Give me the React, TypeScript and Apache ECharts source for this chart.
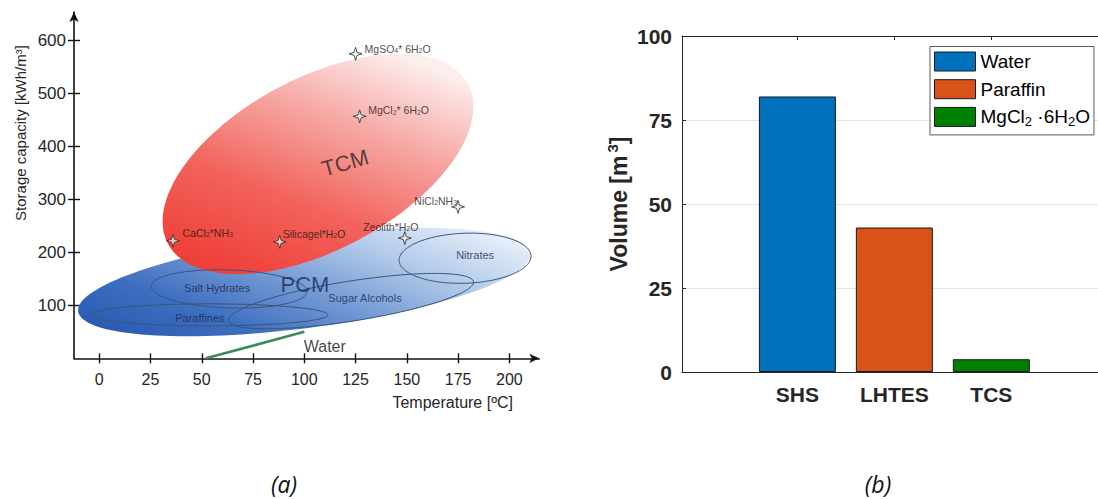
import React, { useEffect, useRef } from "react";
import * as echarts from "echarts";

// ---------------- Panel (a): storage capacity vs temperature ----------------
const tempTicks = [0, 25, 50, 75, 100, 125, 150, 175, 200];
const capacityTicks = [100, 200, 300, 400, 500, 600];

const materialNames = ["MgSO4* 6H2O", "MgCl2* 6H2O", "NiCl2NH3", "Zeolith*H2O", "Silicagel*H2O", "CaCl2*NH3"];
const materialTemp = [125, 127, 175, 149, 88, 36];
const materialCapacity = [575, 457, 286, 227, 220, 222];

// big material classes (filled regions), centre in data units
const regionNames = ["PCM", "TCM"];
const regionTemp = [100, 106.7];
const regionCapacity = [144, 367];

// PCM sub-groups (outlined regions), centre in data units
const subgroupNames = ["Salt Hydrates", "Paraffines", "Sugar Alcohols", "Nitrates"];
const subgroupTemp = [63.3, 54, 122.8, 178.4];
const subgroupCapacity = [131, 82, 108, 189];

// water line
const waterTemp = [52, 100];
const waterCapacity = [0, 50];

// annotation texts
const noteTexts = ["TCM", "PCM", "Salt Hydrates", "Paraffines", "Sugar Alcohols", "Nitrates", "Water"];
const noteTemp = [119.9, 100.3, 57.5, 49.1, 129.6, 183.3, 110];
const noteCapacity = [369, 138.5, 133, 76, 114, 195, 23];

// ---------------- Panel (b): storage volume ----------------
const systems = ["SHS", "LHTES", "TCS"];
const systemPos = [1, 2, 3];
const mediums = ["Water", "Paraffin", "MgCl2 ·6H2O"];
const volumes = [82, 43, 3.8];
const volumeTicks = [0, 25, 50, 75, 100];

// ---------------- styles ----------------
const FONT = "Liberation Sans, Arial, sans-serif";
const regionShapes = [
  { a: 228, b: 46, angle: 7.4 },
  { a: 170, b: 86, angle: 28 },
];
const subgroupShapes = [
  { a: 78, b: 19, angle: -2 },
  { a: 118, b: 11, angle: 0 },
  { a: 124, b: 20, angle: 9 },
  { a: 66, b: 25, angle: 2 },
];
const materialLabelPlacement: any[] = [
  { position: "right", distance: 2, offset: [0, -5] },
  { position: "right", distance: 1.5, offset: [0, -6] },
  { position: "left", distance: 5, offset: [11, -6] },
  { position: "top", distance: 0, offset: [-14, 1] },
  { position: "right", distance: 5, offset: [-9, -8] },
  { position: "right", distance: 2.5, offset: [0, -8] },
];
const noteStyles: any[] = [
  { fontSize: 22, color: "#2e2424", rotate: 16 },
  { fontSize: 22, color: "#1b2c5a" },
  { fontSize: 11, color: "#1a2a50" },
  { fontSize: 11, color: "#1a2a50" },
  { fontSize: 11, color: "#1a2a50" },
  { fontSize: 11, color: "#1a2a50" },
  { fontSize: 16, color: "#111" },
];
const barColors = ["#0072BD", "#D95319", "#008000"];

const toRich = (s: string) => s.replace(/([A-Za-z])(\d)/g, "$1{s|$2}");

function ellipsePoints(cx: number, cy: number, a: number, b: number, deg: number) {
  const th = (deg * Math.PI) / 180;
  const pts: number[][] = [];
  const n = 144;
  for (let k = 0; k < n; k++) {
    const t = (k / n) * Math.PI * 2;
    const ex = a * Math.cos(t);
    const ey = b * Math.sin(t);
    pts.push([cx + ex * Math.cos(th) + ey * Math.sin(th), cy - ex * Math.sin(th) + ey * Math.cos(th)]);
  }
  return pts;
}

function buildOption() {
  const regionFills = [
    new echarts.graphic.LinearGradient(0, 0.8, 1, 0.2, [
      { offset: 0, color: "#2c5db3" },
      { offset: 0.22, color: "#3f6fc1" },
      { offset: 0.5, color: "#7a9fd6" },
      { offset: 0.75, color: "#b4cbea" },
      { offset: 1, color: "#e6eef9" },
    ]),
    new echarts.graphic.LinearGradient(0.2, 1, 0.75, 0, [
      { offset: 0, color: "#ee3f38" },
      { offset: 0.35, color: "#f2635c" },
      { offset: 0.7, color: "#f6aaa6" },
      { offset: 1, color: "#fdeeee" },
    ]),
  ];

  const axisColorA = "#111";
  const axisColorB = "#262626";
  const labelColorA = "#262626";

  return {
    animation: false,
    backgroundColor: "#ffffff",
    textStyle: { fontFamily: FONT },
    grid: [
      { left: 74, top: 12, width: 465.3, height: 346.3 },
      { left: 682, top: 36, width: 416, height: 336 },
    ],
    legend: {
      data: mediums,
      orient: "vertical",
      left: 930,
      top: 46.5,
      icon: "rect",
      itemWidth: 41,
      itemHeight: 19,
      itemGap: 7.7,
      padding: [5, 4, 7, 4],
      borderColor: "#5a5a5a",
      borderWidth: 1,
      backgroundColor: "#ffffff",
      itemStyle: { borderColor: "#1a1a1a", borderWidth: 1 },
      formatter: (n: string) => toRich(n),
      textStyle: {
        fontFamily: FONT,
        fontSize: 19,
        color: "#000",
        rich: { s: { fontFamily: FONT, fontSize: 13, color: "#000", padding: [9, 0, 0, 0] } },
      },
    },
    xAxis: [
      {
        gridIndex: 0,
        type: "value",
        position: "bottom",
        min: -12.3,
        max: 214.6,
        axisLine: {
          show: true,
          onZero: false,
          symbol: ["none", "arrow"],
          symbolSize: [7, 10],
          lineStyle: { color: axisColorA, width: 1.6 },
        },
        axisTick: { show: true, customValues: tempTicks, length: 5, lineStyle: { color: axisColorA, width: 1.4 } },
        axisLabel: { customValues: tempTicks, fontSize: 16, color: labelColorA, margin: 13, fontFamily: FONT },
        splitLine: { show: false },
      },
      {
        gridIndex: 0,
        type: "value",
        position: "bottom",
        offset: 0,
        min: -12.3,
        max: 214.6,
        axisLine: { show: false, onZero: false },
        axisTick: { show: true, inside: true, customValues: tempTicks, length: 5, lineStyle: { color: axisColorA, width: 1.4 } },
        axisLabel: { show: false },
        splitLine: { show: false },
      },
      {
        gridIndex: 1,
        type: "value",
        position: "bottom",
        min: -0.19,
        max: 4.1,
        axisLine: { show: true, onZero: false, lineStyle: { color: axisColorB, width: 1 } },
        axisTick: { show: true, inside: true, customValues: systemPos, length: 4, lineStyle: { color: axisColorB } },
        axisLabel: {
          customValues: systemPos,
          formatter: (v: number) => systems[systemPos.indexOf(v)] ?? "",
          fontSize: 21,
          fontWeight: "bold",
          color: axisColorB,
          margin: 12,
          fontFamily: FONT,
        },
        splitLine: { show: false },
      },
      {
        gridIndex: 1,
        type: "value",
        position: "top",
        min: -0.19,
        max: 4.1,
        axisLine: { show: true, onZero: false, lineStyle: { color: axisColorB, width: 1 } },
        axisTick: { show: true, inside: true, customValues: systemPos, length: 4, lineStyle: { color: axisColorB } },
        axisLabel: { show: false },
        splitLine: { show: false },
      },
    ],
    yAxis: [
      {
        gridIndex: 0,
        type: "value",
        position: "left",
        min: 0,
        max: 654,
        axisLine: {
          show: true,
          onZero: false,
          symbol: ["none", "arrow"],
          symbolSize: [7, 10],
          lineStyle: { color: axisColorA, width: 1.6 },
        },
        axisTick: { show: true, customValues: capacityTicks, length: 6, lineStyle: { color: axisColorA, width: 1.4 } },
        axisLabel: { customValues: capacityTicks, fontSize: 17, color: labelColorA, margin: 8, fontFamily: FONT },
        splitLine: { show: false },
      },
      {
        gridIndex: 0,
        type: "value",
        position: "left",
        offset: 0,
        min: 0,
        max: 654,
        axisLine: { show: false, onZero: false },
        axisTick: { show: true, inside: true, customValues: capacityTicks, length: 6, lineStyle: { color: axisColorA, width: 1.4 } },
        axisLabel: { show: false },
        splitLine: { show: false },
      },
      {
        gridIndex: 1,
        type: "value",
        position: "left",
        min: 0,
        max: 100,
        interval: 25,
        name: "Volume [m{p|3}]",
        nameLocation: "middle",
        nameGap: 50,
        nameTextStyle: {
          fontSize: 23,
          fontWeight: "bold",
          color: axisColorB,
          fontFamily: FONT,
          rich: { p: { fontSize: 15, fontWeight: "bold", color: axisColorB, fontFamily: FONT, padding: [0, 0, 12, 3] } },
        },
        axisLine: { show: true, onZero: false, lineStyle: { color: axisColorB, width: 1 } },
        axisTick: { show: true, inside: true, length: 4, lineStyle: { color: axisColorB } },
        axisLabel: { fontSize: 21, fontWeight: "bold", color: axisColorB, margin: 10, fontFamily: FONT },
        splitLine: { show: true, lineStyle: { color: "#e3e3e3", width: 1 } },
        data: volumeTicks,
      },
    ],
    series: [
      {
        type: "custom",
        name: "regions",
        xAxisIndex: 0,
        yAxisIndex: 0,
        silent: true,
        z: 1,
        data: regionNames.map((_, i) => [regionTemp[i], regionCapacity[i]]),
        renderItem: (params: any, api: any) => {
          const i = params.dataIndex;
          const c = api.coord([api.value(0), api.value(1)]);
          const sh = regionShapes[i];
          return {
            type: "polygon",
            shape: { points: ellipsePoints(c[0], c[1], sh.a, sh.b, sh.angle) },
            style: { fill: regionFills[i], stroke: "none" },
          };
        },
      },
      {
        type: "custom",
        name: "subgroups",
        xAxisIndex: 0,
        yAxisIndex: 0,
        silent: true,
        z: 2,
        data: subgroupNames.map((_, i) => [subgroupTemp[i], subgroupCapacity[i]]),
        renderItem: (params: any, api: any) => {
          const i = params.dataIndex;
          const c = api.coord([api.value(0), api.value(1)]);
          const sh = subgroupShapes[i];
          return {
            type: "polygon",
            shape: { points: ellipsePoints(c[0], c[1], sh.a, sh.b, sh.angle) },
            style: { fill: "none", stroke: "#3a5676", lineWidth: 1 },
          };
        },
      },
      {
        type: "line",
        name: "Water line",
        xAxisIndex: 0,
        yAxisIndex: 0,
        z: 3,
        symbol: "none",
        silent: true,
        data: waterTemp.map((t, i) => [t, waterCapacity[i]]),
        lineStyle: { color: "#3b8a5c", width: 2.6 },
      },
      {
        type: "scatter",
        name: "notes",
        xAxisIndex: 0,
        yAxisIndex: 0,
        z: 4,
        silent: true,
        symbolSize: 1,
        itemStyle: { color: "rgba(0,0,0,0)" },
        data: noteTexts.map((t, i) => ({
          name: t,
          value: [noteTemp[i], noteCapacity[i]],
          label: {
            show: true,
            position: "inside",
            formatter: t,
            fontFamily: FONT,
            ...noteStyles[i],
          },
        })),
      },
      {
        type: "scatter",
        name: "materials",
        xAxisIndex: 0,
        yAxisIndex: 0,
        z: 5,
        silent: true,
        symbol: "path://M0,-10 L2.3,-2.3 L10,0 L2.3,2.3 L0,10 L-2.3,2.3 L-10,0 L-2.3,-2.3 Z",
        symbolSize: 13,
        itemStyle: { color: "#e9efe9", borderColor: "#2b2b2b", borderWidth: 1 },
        data: materialNames.map((n, i) => ({
          name: n,
          value: [materialTemp[i], materialCapacity[i]],
          label: {
            show: true,
            formatter: toRich(n),
            fontSize: 10.5,
            color: "#221616",
            fontFamily: FONT,
            rich: { s: { fontSize: 7, color: "#221616", fontFamily: FONT, padding: [4, 0, 0, 0] } },
            ...materialLabelPlacement[i],
          },
        })),
      },
      ...mediums.map((m, i) => ({
        type: "bar",
        name: m,
        xAxisIndex: 2,
        yAxisIndex: 2,
        barWidth: 77,
        barGap: "-100%",
        data: [[systemPos[i], volumes[i]]],
        itemStyle: { color: barColors[i], borderColor: "#1a1a1a", borderWidth: 1 },
      })),
    ],
    graphic: [
      {
        type: "text",
        x: 20,
        y: 133,
        rotation: Math.PI / 2,
        style: {
          text: "Storage capacity [kWh/m³]",
          fontFamily: FONT,
          fontSize: 15,
          fill: labelColorA,
          align: "center",
          verticalAlign: "middle",
        },
      },
      {
        type: "text",
        x: 513,
        y: 402,
        style: {
          text: "Temperature [ºC]",
          fontFamily: FONT,
          fontSize: 16,
          fill: labelColorA,
          align: "right",
          verticalAlign: "middle",
        },
      },
      {
        type: "text",
        x: 284,
        y: 484,
        style: {
          text: "(a)",
          fontFamily: "Open Sans, sans-serif",
          fontStyle: "italic",
          fontSize: 23,
          fill: "#111",
          align: "center",
          verticalAlign: "middle",
        },
      },
      {
        type: "text",
        x: 878,
        y: 484,
        style: {
          text: "(b)",
          fontFamily: "Open Sans, sans-serif",
          fontStyle: "italic",
          fontSize: 23,
          fill: "#111",
          align: "center",
          verticalAlign: "middle",
        },
      },
    ],
  };
}

export default function App() {
  const ref = useRef<HTMLDivElement>(null);
  useEffect(() => {
    if (!ref.current) return;
    const chart = echarts.init(ref.current, undefined, { renderer: "svg" });
    chart.setOption(buildOption() as any);
    return () => chart.dispose();
  }, []);
  return (
    <div
      ref={ref}
      style={{ position: "absolute", left: 0, top: 0, width: 1098, height: 499, background: "#fff" }}
    />
  );
}
